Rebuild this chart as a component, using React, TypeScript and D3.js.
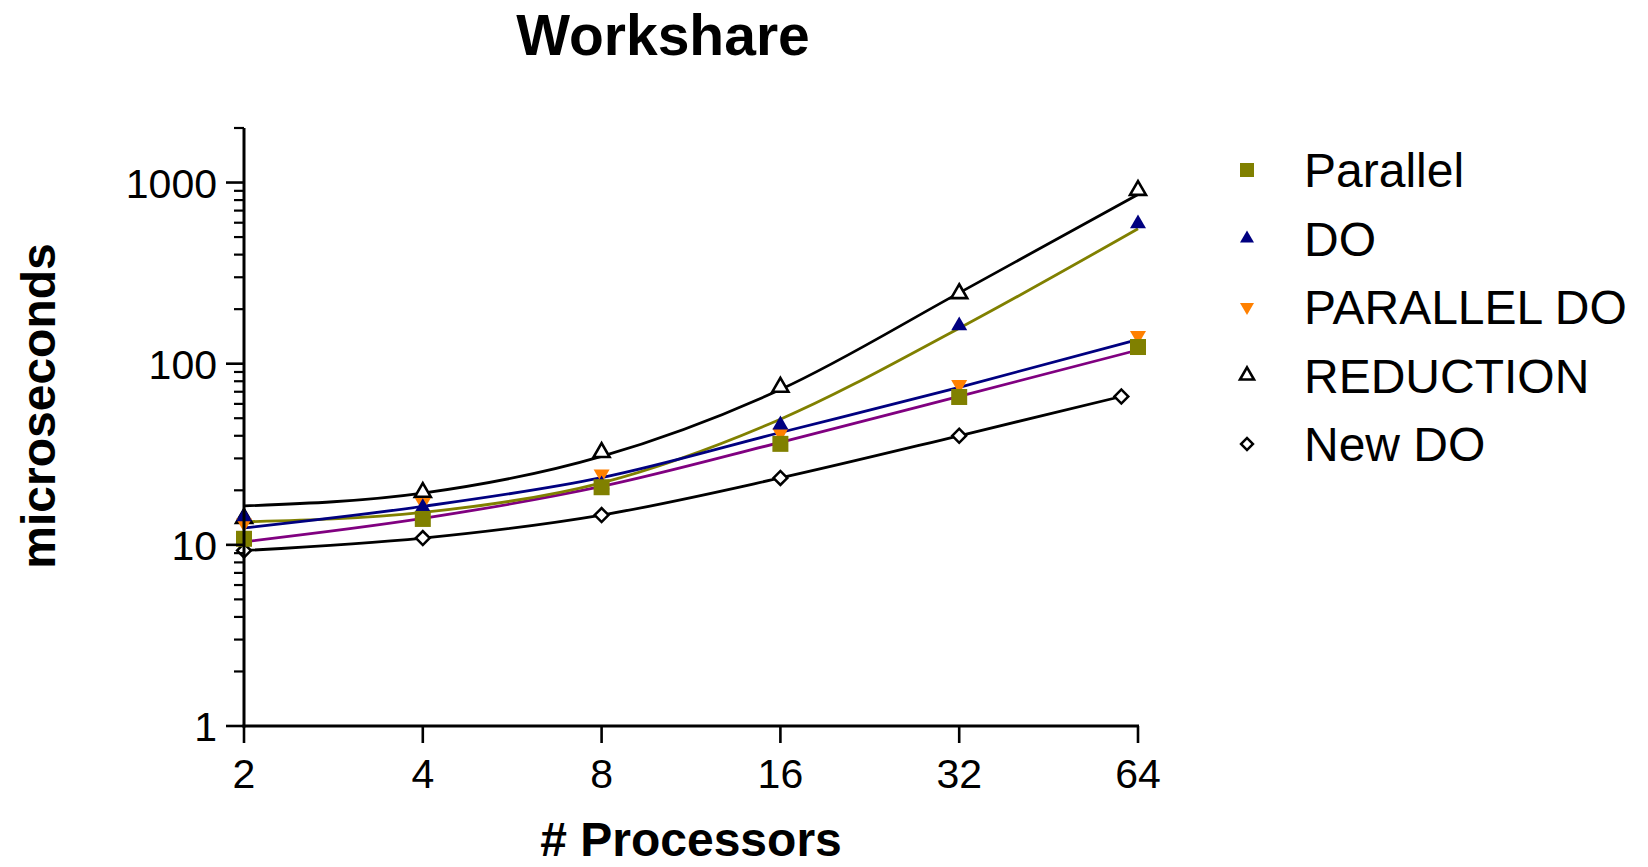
import { useEffect, useRef } from 'react'
import * as d3 from 'd3'

const W = 1648, H = 867

// x positions (processors)
const procs = [2, 4, 8, 16, 32, 64]
const procsNewDo = [2, 4, 8, 16, 32, 60]

// measured points (microseconds)
const parallelPts = [10.8, 13.9, 20.8, 36.1, 65.5, 123.6]
const doPts = [14.3, 16.1, 21.5, 46, 162, 593]
const parallelDoPts = [13.2, 17.1, 24.6, 41.4, 76.6, 143]
const reductionPts = [14, 19.5, 32.4, 74.3, 244, 906]
const newDoPts = [9.3, 10.9, 14.6, 23.4, 40, 65.9]

// fitted curve values
const parallelFit = [10.4, 14.0, 21.0, 36.8, 66, 119]
const doFit = [13.4, 15.1, 22.0, 49.4, 157, 556]
const parallelDoFit = [12.4, 16.3, 23.5, 41.7, 74, 136]
const reductionFit = [16.4, 19.3, 30.8, 72, 246, 860]
const newDoFit = [9.3, 10.9, 14.6, 23.4, 40, 65.9]

const yTicks = [1, 10, 100, 1000]

type Shape = 'square' | 'up' | 'down' | 'openUp' | 'diamond'
interface Series { name: string; xs: number[]; pts: number[]; fit: number[]; shape: Shape; color: string; lineColor: string }

const series: Series[] = [
  { name: 'Parallel', xs: procs, pts: parallelPts, fit: parallelFit, shape: 'square', color: '#808000', lineColor: '#800080' },
  { name: 'DO', xs: procs, pts: doPts, fit: doFit, shape: 'up', color: '#000080', lineColor: '#808000' },
  { name: 'PARALLEL DO', xs: procs, pts: parallelDoPts, fit: parallelDoFit, shape: 'down', color: '#FF8000', lineColor: '#000080' },
  { name: 'REDUCTION', xs: procs, pts: reductionPts, fit: reductionFit, shape: 'openUp', color: '#000000', lineColor: '#000000' },
  { name: 'New DO', xs: procsNewDo, pts: newDoPts, fit: newDoFit, shape: 'diamond', color: '#000000', lineColor: '#000000' },
]

function marker(g: d3.Selection<SVGGElement, unknown, null, undefined>, shape: Shape, color: string, cx: number, cy: number, s: number) {
  if (shape === 'square') {
    g.append('rect').attr('x', cx - s / 2).attr('y', cy - s / 2).attr('width', s).attr('height', s).attr('fill', color)
    return
  }
  if (shape === 'diamond') {
    const d = d3.symbol().type(d3.symbolSquare).size((s * 0.7) ** 2)()
    g.append('path').attr('d', d).attr('transform', `translate(${cx},${cy}) rotate(45)`)
      .attr('fill', '#fff').attr('stroke', color).attr('stroke-width', 2.5)
    return
  }
  const tri = d3.symbol().type(d3.symbolTriangle).size(Math.sqrt(3) / 4 * s * s)()
  const p = g.append('path').attr('d', tri)
    .attr('transform', `translate(${cx},${cy})${shape === 'down' ? ' rotate(180)' : ''}`)
  if (shape === 'openUp') p.attr('fill', '#fff').attr('stroke', color).attr('stroke-width', 2.6)
  else p.attr('fill', color)
}

export default function App() {
  const ref = useRef<SVGSVGElement>(null)

  useEffect(() => {
    const svg = d3.select(ref.current!)
    svg.selectAll('*').remove()
    const font = '"Liberation Sans", Arial, sans-serif'

    const x = d3.scaleLog().base(2).domain([2, 64]).range([244, 1138])
    const y = d3.scaleLog().domain([1, 2000]).range([726, 128])

    const g = svg.append('g')

    // fitted curves
    series.forEach(s => {
      const line = d3.line<number>()
        .x((_, i) => x(s.xs[i])).y(v => y(v))
        .curve(d3.curveMonotoneX)
      g.append('path').datum(s.fit).attr('fill', 'none')
        .attr('stroke', s.lineColor).attr('stroke-width', 2.8)
        .attr('d', line)
    })

    // points, drawn last series first
    series.slice().reverse().forEach(s => {
      s.pts.forEach((v, i) => marker(g, s.shape, s.color, x(s.xs[i]), y(v), s.shape === 'diamond' ? 14 : 16))
    })

    // y axis with log minor ticks
    const ax = svg.append('g').attr('stroke', '#000')
    ax.append('line').attr('x1', 244).attr('x2', 244).attr('y1', 128).attr('y2', 727.5).attr('stroke-width', 3)
    const minors: number[] = []
    for (let d = 1; d <= 1000; d *= 10) for (let k = 2; k <= 9; k++) if (d * k <= 2000) minors.push(d * k)
    minors.forEach(v => {
      ax.append('line').attr('x1', 234).attr('x2', 244).attr('y1', y(v)).attr('y2', y(v)).attr('stroke-width', 2.2)
    })
    yTicks.forEach(v => {
      ax.append('line').attr('x1', 226).attr('x2', 244).attr('y1', y(v)).attr('y2', y(v)).attr('stroke-width', 2.6)
      svg.append('text').attr('x', 217).attr('y', y(v) + 15).attr('text-anchor', 'end')
        .attr('font-family', font).attr('font-size', 41).text(v)
    })

    // x axis
    ax.append('line').attr('x1', 242.5).attr('x2', 1139).attr('y1', 726).attr('y2', 726).attr('stroke-width', 3)
    procs.forEach(v => {
      ax.append('line').attr('x1', x(v)).attr('x2', x(v)).attr('y1', 726).attr('y2', 743).attr('stroke-width', 2.6)
      svg.append('text').attr('x', x(v)).attr('y', 788).attr('text-anchor', 'middle')
        .attr('font-family', font).attr('font-size', 41).text(v)
    })

    // titles
    svg.append('text').attr('x', 663).attr('y', 55).attr('text-anchor', 'middle')
      .attr('font-family', font).attr('font-weight', 'bold').attr('font-size', 57).text('Workshare')
    svg.append('text').attr('x', 691).attr('y', 856).attr('text-anchor', 'middle')
      .attr('font-family', font).attr('font-weight', 'bold').attr('font-size', 48).text('# Processors')
    svg.append('text').attr('transform', 'translate(55,406) rotate(-90)').attr('text-anchor', 'middle')
      .attr('font-family', font).attr('font-weight', 'bold').attr('font-size', 48).text('microseconds')

    // legend
    const leg = svg.append('g')
    series.forEach((s, i) => {
      const cy = 170 + i * 68.5
      marker(leg, s.shape, s.color, 1247, cy, s.shape === 'diamond' ? 12 : 14)
      leg.append('text').attr('x', 1304).attr('y', cy + 17)
        .attr('font-family', font).attr('font-size', 48).text(s.name)
    })
  }, [])

  return <svg ref={ref} width={W} height={H} style={{ position: 'absolute', left: 0, top: 0, background: '#fff' }} />
}
